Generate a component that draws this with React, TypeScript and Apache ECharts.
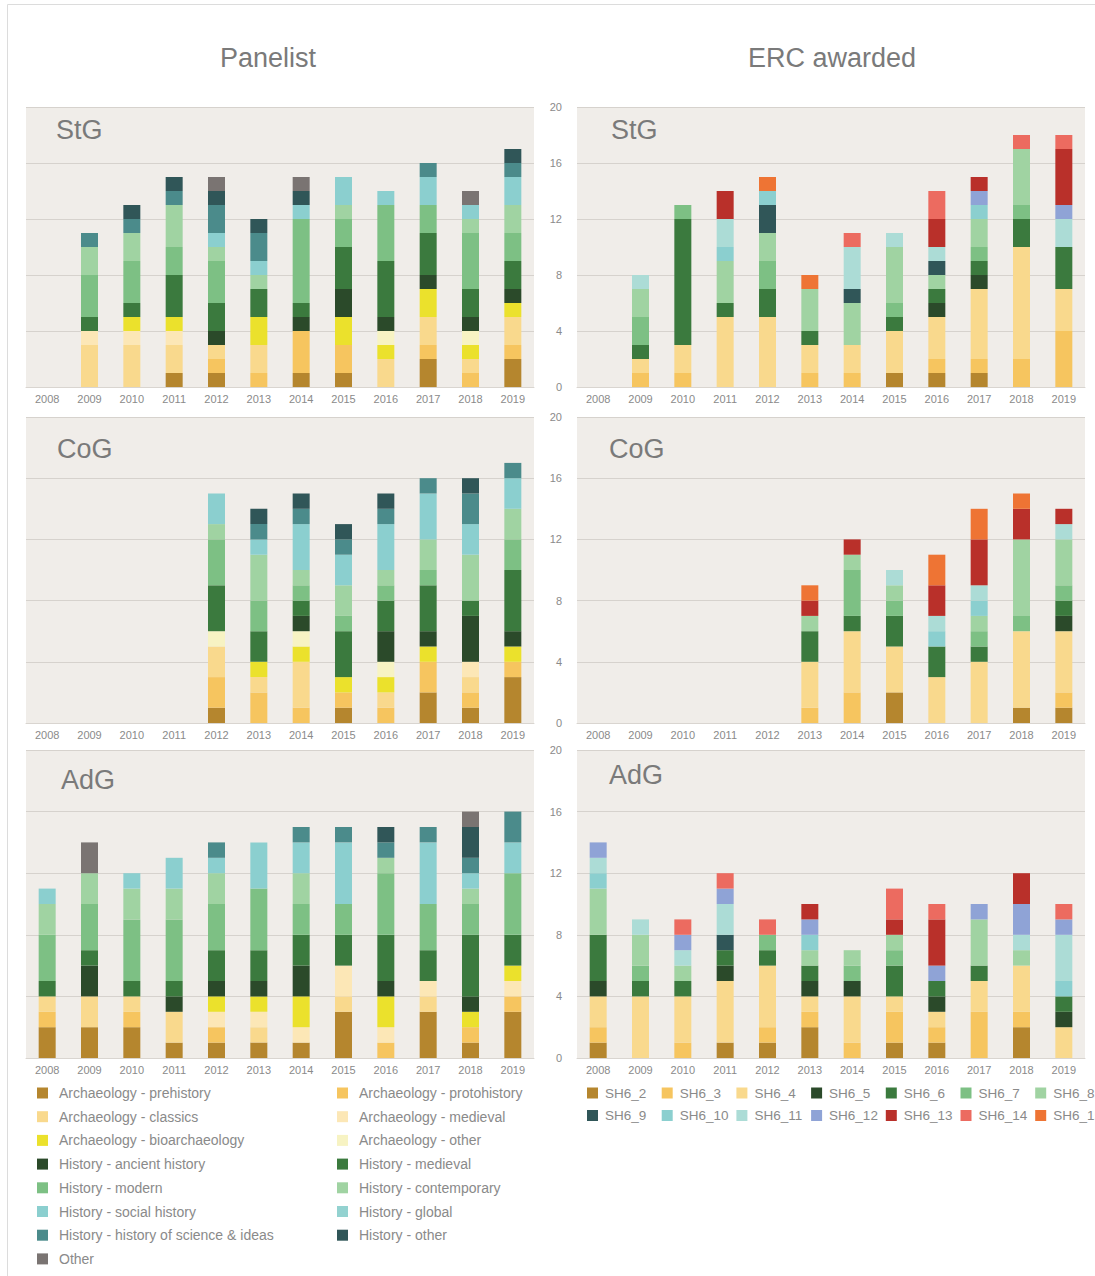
import React, { useEffect, useRef } from "react";
import * as echarts from "echarts";

const YEARS = ["2008", "2009", "2010", "2011", "2012", "2013", "2014", "2015", "2016", "2017", "2018", "2019"];

const PANEL_CATS = [
  "Archaeology - prehistory",
  "Archaeology - protohistory",
  "Archaeology - classics",
  "Archaeology - medieval",
  "Archaeology - bioarchaeology",
  "Archaeology - other",
  "History - ancient history",
  "History - medieval",
  "History - modern",
  "History - contemporary",
  "History - social history",
  "History - global",
  "History - history of science & ideas",
  "History - other",
  "Other",
];
const PANEL_COLORS = [
  "#b5862e", "#f6c55f", "#f9d98d", "#fce7b6", "#ebe12c", "#f7f3c3",
  "#2b4a2a", "#3b7a3e", "#7dc084", "#a0d3a2", "#8bcfcf", "#93d2d0",
  "#4b8b8b", "#305658", "#7a7472",
];

const ERC_CATS = ["SH6_2", "SH6_3", "SH6_4", "SH6_5", "SH6_6", "SH6_7", "SH6_8", "SH6_9", "SH6_10", "SH6_11", "SH6_12", "SH6_13", "SH6_14", "SH6_15"];
const ERC_COLORS = [
  "#b5862e", "#f6c55f", "#f9d98d", "#2b4a2a", "#3b7a3e", "#7dc084", "#a0d3a2",
  "#305658", "#8bcfcf", "#acdcd6", "#8fa3d6", "#b9302a", "#ec6b60", "#ee7434",
];

// Panelist StG (rows follow PANEL_CATS, columns follow YEARS)
const PANELIST_STG = [
  [0, 0, 0, 1, 1, 0, 1, 1, 0, 2, 0, 2],
  [0, 0, 0, 0, 1, 1, 3, 2, 0, 1, 1, 1],
  [0, 3, 3, 2, 1, 2, 0, 0, 2, 2, 1, 2],
  [0, 1, 1, 1, 0, 0, 0, 0, 0, 0, 0, 0],
  [0, 0, 1, 1, 0, 2, 0, 2, 1, 2, 1, 1],
  [0, 0, 0, 0, 0, 0, 0, 0, 1, 0, 1, 0],
  [0, 0, 0, 0, 1, 0, 1, 2, 1, 1, 1, 1],
  [0, 1, 1, 3, 2, 2, 1, 3, 4, 3, 2, 2],
  [0, 3, 3, 2, 3, 0, 6, 2, 4, 2, 4, 2],
  [0, 2, 2, 3, 1, 1, 0, 1, 0, 0, 1, 2],
  [0, 0, 0, 0, 1, 1, 1, 2, 1, 2, 1, 2],
  [0, 0, 0, 0, 0, 0, 0, 0, 0, 0, 0, 0],
  [0, 1, 1, 1, 2, 2, 0, 0, 0, 1, 0, 1],
  [0, 0, 1, 1, 1, 1, 1, 0, 0, 0, 0, 1],
  [0, 0, 0, 0, 1, 0, 1, 0, 0, 0, 1, 0],
];

// Panelist CoG
const PANELIST_COG = [
  [0, 0, 0, 0, 1, 0, 0, 1, 0, 2, 1, 3],
  [0, 0, 0, 0, 2, 2, 1, 1, 1, 2, 1, 1],
  [0, 0, 0, 0, 2, 1, 3, 0, 1, 0, 1, 0],
  [0, 0, 0, 0, 0, 0, 0, 0, 0, 0, 1, 0],
  [0, 0, 0, 0, 0, 1, 1, 1, 1, 1, 0, 1],
  [0, 0, 0, 0, 1, 0, 1, 0, 1, 0, 0, 0],
  [0, 0, 0, 0, 0, 0, 1, 0, 2, 1, 3, 1],
  [0, 0, 0, 0, 3, 2, 1, 3, 2, 3, 1, 4],
  [0, 0, 0, 0, 3, 2, 1, 1, 1, 1, 0, 2],
  [0, 0, 0, 0, 1, 3, 1, 2, 1, 2, 3, 2],
  [0, 0, 0, 0, 2, 1, 3, 2, 3, 3, 2, 2],
  [0, 0, 0, 0, 0, 0, 0, 0, 0, 0, 0, 0],
  [0, 0, 0, 0, 0, 1, 1, 1, 1, 1, 2, 1],
  [0, 0, 0, 0, 0, 1, 1, 1, 1, 0, 1, 0],
  [0, 0, 0, 0, 0, 0, 0, 0, 0, 0, 0, 0],
];

// Panelist AdG
const PANELIST_ADG = [
  [2, 2, 2, 1, 1, 1, 1, 3, 0, 3, 1, 3],
  [1, 0, 1, 0, 1, 0, 0, 0, 1, 0, 1, 1],
  [1, 2, 1, 2, 0, 1, 0, 1, 0, 1, 0, 0],
  [0, 0, 0, 0, 1, 1, 1, 2, 1, 1, 0, 1],
  [0, 0, 0, 0, 1, 1, 2, 0, 2, 0, 1, 1],
  [0, 0, 0, 0, 0, 0, 0, 0, 0, 0, 0, 0],
  [0, 2, 0, 1, 1, 1, 2, 0, 1, 0, 1, 0],
  [1, 1, 1, 1, 2, 2, 2, 2, 3, 2, 4, 2],
  [3, 3, 4, 4, 3, 4, 2, 2, 4, 3, 2, 4],
  [2, 2, 2, 2, 2, 0, 2, 0, 1, 0, 1, 0],
  [1, 0, 1, 2, 1, 3, 2, 4, 0, 4, 1, 2],
  [0, 0, 0, 0, 0, 0, 0, 0, 0, 0, 0, 0],
  [0, 0, 0, 0, 1, 0, 1, 1, 1, 1, 1, 2],
  [0, 0, 0, 0, 0, 0, 0, 0, 1, 0, 2, 0],
  [0, 2, 0, 0, 0, 0, 0, 0, 0, 0, 1, 0],
];

// ERC awarded StG (rows follow ERC_CATS)
const ERC_STG = [
  [0, 0, 0, 0, 0, 0, 0, 1, 1, 1, 0, 0],
  [0, 1, 1, 0, 0, 1, 1, 0, 1, 1, 2, 4],
  [0, 1, 2, 5, 5, 2, 2, 3, 3, 5, 8, 3],
  [0, 0, 0, 0, 0, 0, 0, 0, 1, 1, 0, 0],
  [0, 1, 9, 1, 2, 1, 0, 1, 1, 1, 2, 3],
  [0, 2, 1, 0, 2, 0, 0, 1, 0, 1, 1, 0],
  [0, 2, 0, 3, 2, 3, 3, 4, 1, 2, 4, 0],
  [0, 0, 0, 0, 2, 0, 1, 0, 1, 0, 0, 0],
  [0, 0, 0, 1, 1, 0, 0, 0, 0, 1, 0, 0],
  [0, 1, 0, 2, 0, 0, 3, 1, 1, 0, 0, 2],
  [0, 0, 0, 0, 0, 0, 0, 0, 0, 1, 0, 1],
  [0, 0, 0, 2, 0, 0, 0, 0, 2, 1, 0, 4],
  [0, 0, 0, 0, 0, 0, 1, 0, 2, 0, 1, 1],
  [0, 0, 0, 0, 1, 1, 0, 0, 0, 0, 0, 0],
];

// ERC awarded CoG
const ERC_COG = [
  [0, 0, 0, 0, 0, 0, 0, 2, 0, 0, 1, 1],
  [0, 0, 0, 0, 0, 1, 2, 0, 0, 0, 0, 1],
  [0, 0, 0, 0, 0, 3, 4, 3, 3, 4, 5, 4],
  [0, 0, 0, 0, 0, 0, 0, 0, 0, 0, 0, 1],
  [0, 0, 0, 0, 0, 2, 1, 2, 2, 1, 0, 1],
  [0, 0, 0, 0, 0, 0, 3, 1, 0, 1, 1, 1],
  [0, 0, 0, 0, 0, 1, 1, 1, 0, 1, 5, 3],
  [0, 0, 0, 0, 0, 0, 0, 0, 0, 0, 0, 0],
  [0, 0, 0, 0, 0, 0, 0, 0, 1, 1, 0, 0],
  [0, 0, 0, 0, 0, 0, 0, 1, 1, 1, 0, 1],
  [0, 0, 0, 0, 0, 0, 0, 0, 0, 0, 0, 0],
  [0, 0, 0, 0, 0, 1, 1, 0, 2, 3, 2, 1],
  [0, 0, 0, 0, 0, 0, 0, 0, 0, 0, 0, 0],
  [0, 0, 0, 0, 0, 1, 0, 0, 2, 2, 1, 0],
];

// ERC awarded AdG
const ERC_ADG = [
  [1, 0, 0, 1, 1, 2, 0, 1, 1, 0, 2, 0],
  [1, 0, 1, 0, 1, 1, 1, 2, 1, 3, 1, 0],
  [2, 4, 3, 4, 4, 1, 3, 1, 1, 2, 3, 2],
  [1, 0, 0, 1, 0, 1, 1, 0, 1, 0, 0, 1],
  [3, 1, 1, 1, 1, 1, 0, 2, 1, 1, 0, 1],
  [0, 1, 0, 0, 1, 0, 1, 1, 0, 0, 0, 0],
  [3, 2, 1, 0, 0, 1, 1, 1, 0, 3, 1, 0],
  [0, 0, 0, 1, 0, 0, 0, 0, 0, 0, 0, 0],
  [1, 0, 0, 0, 0, 1, 0, 0, 0, 0, 0, 1],
  [1, 1, 1, 2, 0, 0, 0, 0, 0, 0, 1, 3],
  [1, 0, 1, 1, 0, 1, 0, 0, 1, 1, 2, 1],
  [0, 0, 0, 0, 0, 1, 0, 1, 3, 0, 2, 0],
  [0, 0, 1, 1, 1, 0, 0, 2, 1, 0, 0, 1],
  [0, 0, 0, 0, 0, 0, 0, 0, 0, 0, 0, 0],
];

const Y_TICKS = { min: 0, max: 20, interval: 4 };
const FONT = "'Liberation Sans', Arial, Helvetica, sans-serif";

export default function App() {
  const ref = useRef<HTMLDivElement>(null);

  useEffect(() => {
    if (!ref.current) return;
    const chart = echarts.init(ref.current, undefined, { renderer: "svg" });

    const L = { left: 26, width: 508 };
    const R = { left: 577, width: 508 };
    const panels = [
      { grid: { ...L, top: 107, height: 280 }, right: false, cats: PANEL_CATS, colors: PANEL_COLORS, data: PANELIST_STG, label: "StG", lx: 56, ly: 130 },
      { grid: { ...R, top: 107, height: 280 }, right: true, cats: ERC_CATS, colors: ERC_COLORS, data: ERC_STG, label: "StG", lx: 611, ly: 130 },
      { grid: { ...L, top: 417, height: 306 }, right: false, cats: PANEL_CATS, colors: PANEL_COLORS, data: PANELIST_COG, label: "CoG", lx: 57, ly: 449 },
      { grid: { ...R, top: 417, height: 306 }, right: true, cats: ERC_CATS, colors: ERC_COLORS, data: ERC_COG, label: "CoG", lx: 609, ly: 449 },
      { grid: { ...L, top: 750, height: 308 }, right: false, cats: PANEL_CATS, colors: PANEL_COLORS, data: PANELIST_ADG, label: "AdG", lx: 61, ly: 780 },
      { grid: { ...R, top: 750, height: 308 }, right: true, cats: ERC_CATS, colors: ERC_COLORS, data: ERC_ADG, label: "AdG", lx: 609, ly: 775 },
    ];

    const grids = panels.map((p) => ({
      ...p.grid,
      show: true,
      backgroundColor: "#f0ede9",
      borderWidth: 0,
      containLabel: false,
    }));

    const xAxes = panels.map((p, i) => ({
      type: "category",
      gridIndex: i,
      data: YEARS,
      axisTick: { show: false },
      axisLine: { show: true, lineStyle: { color: "#d9d5d0", width: 1 } },
      axisLabel: { color: "#8a8a8a", fontSize: 11, margin: 6, fontFamily: FONT },
    }));

    const yAxes = panels.map((p, i) => ({
      type: "value",
      gridIndex: i,
      ...Y_TICKS,
      axisLine: { show: false },
      axisTick: { show: false },
      axisLabel: { show: p.right, color: "#8a8a8a", fontSize: 11, margin: 15, fontFamily: FONT },
      splitLine: { show: true, lineStyle: { color: "#d6d2cd", width: 1.2 } },
    }));

    const series: any[] = [];
    panels.forEach((p, i) => {
      p.cats.forEach((name, k) => {
        series.push({
          type: "bar",
          name,
          stack: "s" + i,
          xAxisIndex: i,
          yAxisIndex: i,
          barWidth: 17,
          data: p.data[k],
          itemStyle: { color: p.colors[k] },
          emphasis: { disabled: true },
        });
      });
    });

    const legends: any[] = [];
    PANEL_CATS.forEach((name, k) => {
      const row = Math.floor(k / 2);
      const col = k % 2;
      legends.push({
        data: [name],
        left: col === 0 ? 37 : 337,
        top: 1086 + row * 23.7,
        icon: "rect",
        itemWidth: 11,
        itemHeight: 11,
        padding: 0,
        textStyle: { color: "#8a8a8a", fontSize: 14, fontFamily: FONT, padding: [0, 0, 0, 6] },
      });
    });
    ERC_CATS.forEach((name, k) => {
      const row = Math.floor(k / 7);
      const col = k % 7;
      legends.push({
        data: [name],
        left: 587 + col * 74.7,
        top: 1086 + row * 22.5,
        icon: "rect",
        itemWidth: 11,
        itemHeight: 11,
        padding: 0,
        textStyle: { color: "#8a8a8a", fontSize: 13.5, fontFamily: FONT, padding: [0, 0, 0, 2] },
      });
    });

    const graphics: any[] = [
      {
        type: "rect",
        shape: { x: 7.5, y: 4.5, width: 1200, height: 1300 },
        style: { fill: "none", stroke: "#dcdcdc", lineWidth: 1 },
        silent: true,
        z: -10,
      },
      {
        type: "text",
        x: 268,
        y: 58,
        style: { text: "Panelist", fontSize: 27, fontFamily: FONT, fill: "#7a7a7a", align: "center", verticalAlign: "middle" },
      },
      {
        type: "text",
        x: 832,
        y: 58,
        style: { text: "ERC awarded", fontSize: 27, fontFamily: FONT, fill: "#7a7a7a", align: "center", verticalAlign: "middle" },
      },
      ...panels.map((p) => ({
        type: "text",
        x: p.lx,
        y: p.ly,
        z: 100,
        style: { text: p.label, fontSize: 27, fontFamily: FONT, fill: "#7a7a7a", align: "left", verticalAlign: "middle" },
      })),
    ];

    chart.setOption({
      animation: false,
      textStyle: { fontFamily: FONT },
      grid: grids,
      xAxis: xAxes,
      yAxis: yAxes,
      legend: legends,
      series,
      graphic: graphics,
    });

    return () => chart.dispose();
  }, []);

  return (
    <div
      ref={ref}
      style={{ position: "absolute", left: 0, top: 0, width: 1095, height: 1276, background: "#ffffff" }}
    />
  );
}
